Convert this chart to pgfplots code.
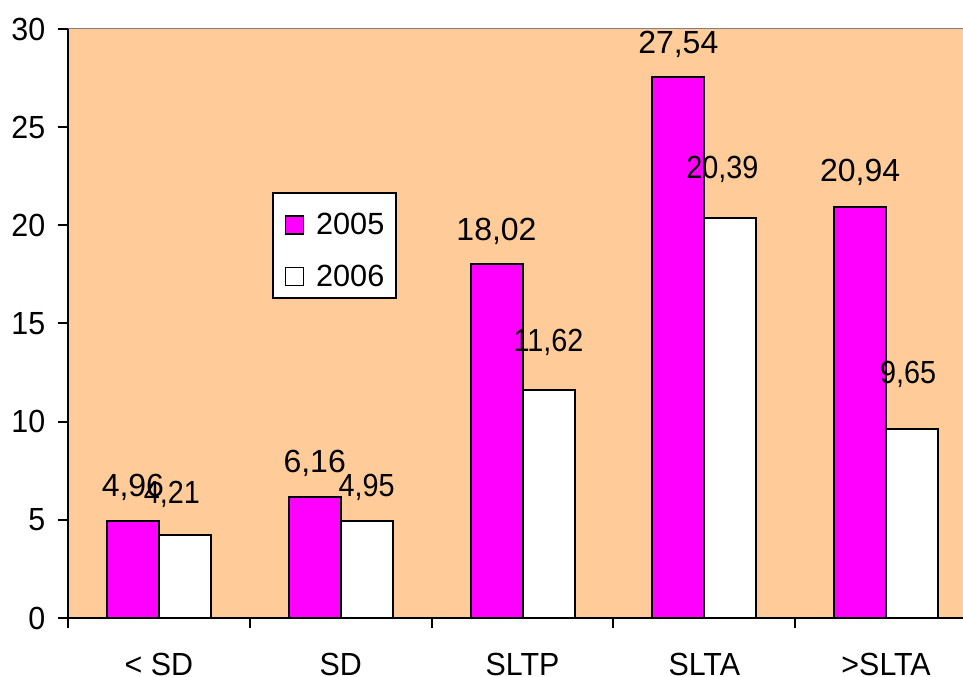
\documentclass[border=0pt]{standalone}
\usepackage{pgfplots}
\pgfplotsset{compat=1.18}
\usepackage{pgfplotstable}
\usepackage{fontspec}
\setmainfont{Liberation Sans}
\usepackage{graphicx}
\definecolor{bgorange}{HTML}{FFCC99}
\definecolor{mag}{HTML}{FF00FF}

% label text: dx/dy/text  (offsets in px of the reference, 1px = 0.75pt)
\def\lblA#1{\expandafter\lblAx#1\relax}
\def\lblAx#1/#2/#3\relax{\makebox[0pt][c]{\hspace*{\dimexpr 1.5pt*#1\relax}\raisebox{\dimexpr 0.75pt*#2 - 8.6pt\relax}[0pt][0pt]{#3}}}
\def\lblB#1{\expandafter\lblBx#1\relax}
\def\lblBx#1/#2/#3\relax{\makebox[0pt][c]{\hspace*{\dimexpr 1.5pt*#1\relax}\raisebox{\dimexpr 0.75pt*#2 - 8.6pt\relax}[0pt][0pt]{\scalebox{0.9}[1]{#3}}}}

\pgfplotstableread{
x y lab
0 4.96 0/36/4,96
1 6.16 0/36/6,16
2 18.02 0/35/18,02
3 27.54 0/35/27,54
4 20.94 0/37/20,94
}\tA
\pgfplotstableread{
x y lab
0 4.21 -13/43/4,21
1 4.95 0/36/4,95
2 11.62 0/50/11,62
3 20.39 -8/51/20,39
4 9.65 -4/57/9,65
}\tB

\begin{document}
\begin{tikzpicture}
\begin{axis}[
  at={(0,0)}, anchor=south west,
  scale only axis, width=681.75pt, height=441.75pt,
  xmin=-0.5, xmax=4.5, ymin=0, ymax=30,
  clip=false,
  ybar, bar width=39pt,
  axis background/.style={fill=bgorange},
  axis x line*=bottom, axis y line*=left,
  axis line style={-, black, line width=1.5pt},
  tick align=outside, major tick length=7.5pt, minor tick length=7.5pt,
  tick style={black, line width=1.5pt},
  ytick={0,5,...,30},
  xtick={0,...,4},
  xticklabels={{\scalebox{0.95}[1]{< SD}},{\scalebox{0.95}[1]{SD}},{\scalebox{0.95}[1]{SLTP}},{\scalebox{0.95}[1]{SLTA}},{\scalebox{0.95}[1]{>SLTA}}},
  major x tick style={draw=none},
  minor xtick={-0.5,0.5,...,4.5},
  /pgf/number format/assume math mode=true,
  tick label style={font=\fontsize{24}{28}\selectfont},
  yticklabel={\scalebox{0.95}[1]{\pgfmathprintnumber{\tick}}},
  yticklabel style={xshift=-6pt},
  xticklabel style={yshift=-15pt},
  legend style={at={(0.2244,0.7233)}, anchor=north west, draw=black, line width=1.5pt,
    fill=white, font=\fontsize{23}{27}\selectfont, nodes={inner sep=0pt},
    row sep=13.5pt, column sep=9pt, inner xsep=8.5pt, inner ysep=7.5pt},
  legend cell align=left,
  legend image code/.code={\path (0pt,15.75pt); \draw[#1, line width=1.2pt] (0pt,-6.75pt) rectangle (13.5pt,6.75pt);},
  after end axis/.code={\draw[gray, line width=0.75pt] (rel axis cs:0,1) -- (rel axis cs:1,1);},
]
\addplot[forget plot, bar shift=-19.5pt, fill=mag, draw=black, line width=1.5pt,
  point meta=explicit symbolic,
  nodes near coords={\lblA\pgfplotspointmeta},
  every node near coord/.append style={anchor=center, inner sep=0pt, font=\fontsize{24}{28}\selectfont, text=black}]
  table[x=x, y=y, meta=lab] {\tA};
\addplot[forget plot, bar shift=19.5pt, fill=white, draw=black, line width=1.5pt,
  point meta=explicit symbolic,
  nodes near coords={\lblB\pgfplotspointmeta},
  every node near coord/.append style={anchor=center, inner sep=0pt, font=\fontsize{24}{28}\selectfont, text=black}]
  table[x=x, y=y, meta=lab] {\tB};
\addlegendimage{fill=mag, draw=black}
\addlegendentry{2005}
\addlegendimage{fill=white, draw=black}
\addlegendentry{2006}
\end{axis}
\pgfresetboundingbox
\path (-51pt,-44.25pt) rectangle (671.25pt,463.5pt);
\end{tikzpicture}
\end{document}
